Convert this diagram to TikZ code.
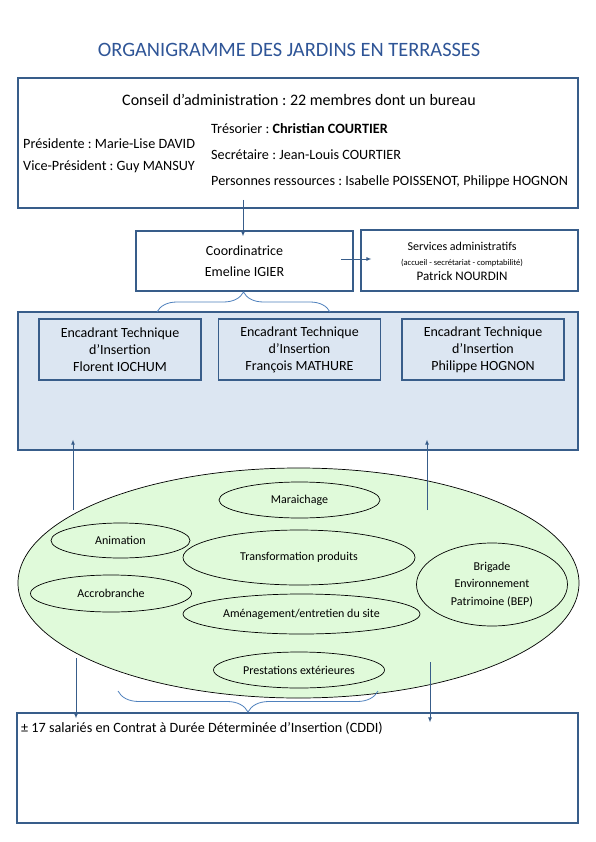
\documentclass[tikz,border=0pt]{standalone}
\usepackage{fontspec}
\setmainfont{Carlito}
\usepackage{tikz}
\usetikzlibrary{shapes.geometric, arrows.meta, positioning, decorations.pathreplacing}
\definecolor{bleufonce}{RGB}{56,93,138}
\definecolor{bleutitre}{RGB}{47,85,151}
\definecolor{bleuclair}{RGB}{220,230,242}
\definecolor{vertclair}{RGB}{224,250,218}
\definecolor{bleuaccol}{RGB}{79,129,189}
\frenchspacing

\begin{document}
\begin{tikzpicture}[
    x=1pt, y=-1pt,
    >={Latex[length=5pt,width=4pt]},
    cadre/.style={draw=bleufonce, line width=1.2pt, rectangle, inner sep=0pt, align=center, fill=#1},
    cadre/.default=white,
    texte/.style={inner sep=0pt, anchor=west, font=\fontsize{14.2}{17}\selectfont},
    pole/.style={draw, ellipse, inner sep=0pt, line width=0.7pt, align=center, font=\fontsize{12}{17.5}\selectfont},
    fleche/.style={->, draw=bleufonce, line width=0.9pt},
    accol/.style={draw=bleuaccol, line width=0.8pt, decorate, decoration={brace, amplitude=#1}}
]

\path[use as bounding box, fill=white] (0,0) rectangle (596,842);

% Titre
\node[font=\fontsize{20.4}{24}\selectfont, text=bleutitre] (titre) at (289,50) {ORGANIGRAMME DES JARDINS EN TERRASSES};

% Conseil d'administration
\node[cadre, minimum width=560pt, minimum height=130pt] (conseil) at (298,143) {};
\node[font=\fontsize{16}{18}\selectfont, inner sep=0pt] (ca) at (299,100) {Conseil d’administration : 22 membres dont un bureau};
\node[texte] (presidente) at (23,144) {Présidente : Marie-Lise DAVID};
\node[texte] (vice) at (23,167) {Vice-Président : Guy MANSUY};
\node[texte] (tresorier) at (211,129) {Trésorier : \textbf{Christian COURTIER}};
\node[texte] (secretaire) at (211,155) {Secrétaire : Jean-Louis COURTIER};
\node[texte] (ressources) at (211,182) {Personnes ressources : Isabelle POISSENOT, Philippe HOGNON};

% Coordination et services
\node[cadre, minimum width=217pt, minimum height=60pt, font=\fontsize{14}{21}\selectfont] (coord) at (244.5,261) {Coordinatrice\\Emeline IGIER};
\node[cadre, minimum width=217pt, minimum height=61pt] (services) at (469.5,260.5) {};
\node[inner sep=0pt, align=center, font=\fontsize{12}{15}\selectfont] (servtexte) at (462,261) {Services administratifs\\{\fontsize{8.5}{15}\selectfont (accueil - secrétariat - comptabilité)}\\{\fontsize{13}{15}\selectfont Patrick NOURDIN}};

% Encadrants techniques
\node[cadre=bleuclair, minimum width=560pt, minimum height=138pt] (zone) at (298,381) {};
\node[cadre=bleuclair, minimum width=162pt, minimum height=61pt, font=\fontsize{14}{17}\selectfont] (eti1) at (120,349.5) {Encadrant Technique\\d’Insertion\\Florent IOCHUM};
\node[cadre=bleuclair, minimum width=162pt, minimum height=61pt, font=\fontsize{14}{17}\selectfont] (eti2) at (299.5,349.5) {Encadrant Technique\\d’Insertion\\François MATHURE};
\node[cadre=bleuclair, minimum width=162pt, minimum height=61pt, font=\fontsize{14}{17}\selectfont] (eti3) at (483,349.5) {Encadrant Technique\\d’Insertion\\Philippe HOGNON};

% Activites
\node[pole, fill=vertclair, minimum width=561pt, minimum height=230pt] (poles) at (298.5,583) {};
\node[pole, minimum width=161pt, minimum height=36pt] (maraichage) at (299.5,500) {Maraichage};
\node[pole, minimum width=139pt, minimum height=35pt] (animation) at (120.5,540.5) {Animation};
\node[pole, minimum width=232pt, minimum height=55pt] (transfo) at (299,557.5) {Transformation produits};
\node[pole, minimum width=161pt, minimum height=37pt] (accro) at (111,593.5) {Accrobranche};
\node[pole, minimum width=237pt, minimum height=40pt] (amenagement) at (301.5,614) {Aménagement/entretien du site};
\node[pole, minimum width=151pt, minimum height=83pt] (bep) at (492,584.5) {Brigade\\Environnement\\Patrimoine (BEP)};
\node[pole, minimum width=171pt, minimum height=36pt] (prestations) at (299,670) {Prestations extérieures};

% Salaries en insertion
\node[cadre, minimum width=561pt, minimum height=110pt] (salaries) at (297.5,768) {};
\node[texte] (cddi) at (21,728) {± 17 salariés en Contrat à Durée Déterminée d’Insertion (CDDI)};

% Fleches
\coordinate (c1) at (243,200);
\coordinate (c2) at (341,259);
\coordinate (p1) at (73,510);
\coordinate (p2) at (427,510);
\coordinate (s1) at (76,658);
\coordinate (s2) at (430,662);
\draw[fleche, shorten >=-6pt] (c1) -- (c1 |- coord.north);
\draw[fleche, shorten >=-11pt] (c2) -- (c2 -| services.west);
\draw[fleche, shorten >=-11pt] (p1) -- (p1 |- zone.south);
\draw[fleche, shorten >=-11pt] (p2) -- (p2 |- zone.south);
\draw[fleche, shorten >=-6pt] (s1) -- (s1 |- salaries.north);
\draw[fleche, shorten >=-10pt] (s2) -- (s2 |- salaries.north);

% Accolades
\draw[accol=20pt] (157,312) -- (330,312);
\draw[accol=21pt] (378,691) -- (118,691);

\end{tikzpicture}
\end{document}
